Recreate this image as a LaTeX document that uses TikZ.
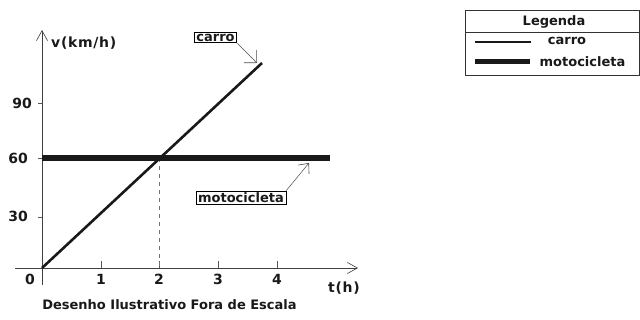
\documentclass[tikz,border=0pt]{standalone}
\usepackage{fontspec}
\setmainfont{DejaVu Sans}
\usetikzlibrary{arrows.meta}
\begin{document}
\begin{tikzpicture}[x=1pt,y=-1pt,
  txt/.style={font=\fontsize{13}{15}\selectfont\bfseries, text=black!90, inner sep=0pt},
  num/.style={txt, font=\fontsize{14}{16}\selectfont\bfseries},
  wide/.style={txt, font=\fontsize{14}{16}\selectfont\bfseries\addfontfeatures{LetterSpace=5}},
  axisline/.style={line width=0.7pt, black!75},
  axarrow/.style={-{Straight Barb[length=10pt,width=11pt,line width=0.6pt]}},
  tick/.style={line width=0.6pt, black!65},
  carroline/.style={line width=2.6pt, black!90},
  motoline/.style={line width=6pt, black!90},
  lblbox/.style={txt, draw, line width=0.6pt, inner xsep=2pt, inner ysep=1.5pt},
  leader/.style={line width=0.5pt, black!70, -{Straight Barb[length=9pt,width=18pt,line width=0.6pt]}},
  dashv/.style={line width=0.7pt, black!55, dash pattern=on 4pt off 4pt}
]
\useasboundingbox (0,0) rectangle (640,320);
% axes
\coordinate (O) at (42,268);
\coordinate (xs) at (15,268);
\coordinate (xe) at (358,268);
\coordinate (yb) at (42,285);
\coordinate (yt) at (42,30);
\draw[axisline,axarrow] (xs) -- (xe);
\draw[axisline,axarrow] (yb) -- (yt);
% x ticks
\foreach \x/\n in {101/1,159/2,218/3,277/4}{
  \draw[tick] (\x,268) -- (\x,261);
  \node[num] (xl\n) at (\x,279) {\n};
}
\node[num] (x0) at (30,279) {0};
% y ticks
\foreach \y/\n in {103/90,158/60,217/30}{
  \draw[tick] (38,\y) -- (42,\y);
}
\node[num] (y90) at (22,103) {90};
\node[num] (y60) at (18,158) {60};
\node[num] (y30) at (18,216) {30};
\node[wide, anchor=west] (vlab) at (51,43) {v(km/h)};
\node[wide] (tlab) at (344,288) {t(h)};
% curves
\coordinate (cE) at (262,63);
\coordinate (m0) at (42,158);
\coordinate (mE) at (330,158);
\coordinate (dT) at (159,158);
\coordinate (dB) at (159,268);
\draw[dashv] (dT) -- (dB);
\draw[motoline] (m0) -- (mE);
\draw[carroline] (O) -- (cE);
% labels with leaders
\node[lblbox] (carro) at (215.5,37.5) {carro};
\node[lblbox] (moto) at (241,197.5) {motocicleta};
\coordinate (cTip) at (257,63);
\coordinate (mTip) at (309,163);
\draw[leader] (carro.south east) -- (cTip);
\draw[leader,-{Straight Barb[length=8pt,width=14pt,line width=0.6pt]}] (moto.north east) -- (mTip);
% caption
\node[txt] (cap) at (169.5,305) {Desenho Ilustrativo Fora de Escala};
% legend
\draw[line width=0.8pt, black!80] (465,10) rectangle (639.6,75);
\draw[line width=0.8pt, black!80] (465,32) -- (639.6,32);
\node[txt] (leg) at (554,21.5) {Legenda};
\coordinate (l1a) at (475,42);
\coordinate (l1b) at (531,42);
\coordinate (l2a) at (475,62);
\coordinate (l2b) at (530,62);
\draw[line width=2.2pt, black!90] (l1a) -- (l1b);
\draw[line width=5pt, black!90] (l2a) -- (l2b);
\node[txt] (lc) at (567,40.5) {carro};
\node[txt] (lm) at (582.5,61.5) {motocicleta};
\end{tikzpicture}
\end{document}
